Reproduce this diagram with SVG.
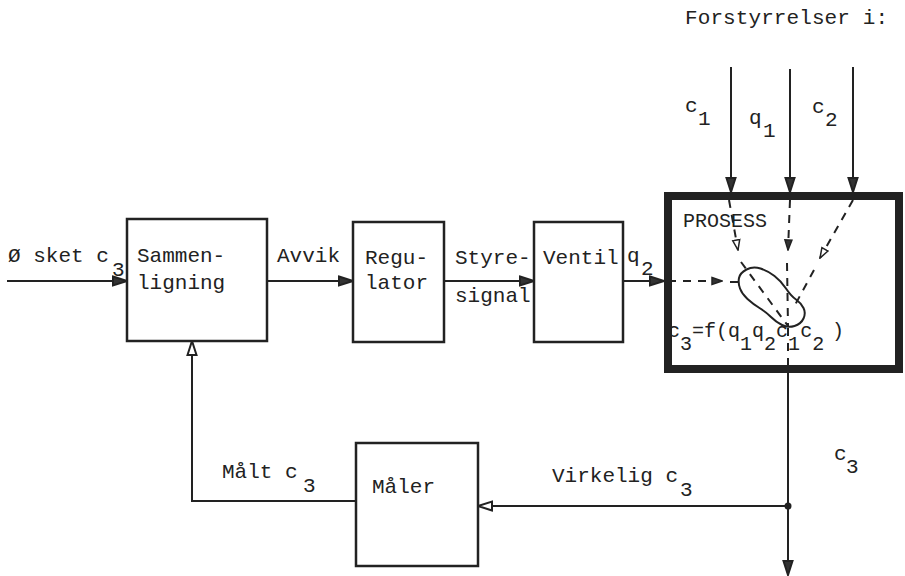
<svg xmlns="http://www.w3.org/2000/svg" width="905" height="576" viewBox="0 0 905 576">
<style>
text{font-family:"Liberation Mono","DejaVu Sans Mono",monospace;font-size:21px;fill:#222}
.box{fill:none;stroke:#222;stroke-width:2.5}
.ln{fill:none;stroke:#222;stroke-width:2}
.dash{fill:none;stroke:#222;stroke-width:2;stroke-dasharray:8 7}
.thick{fill:none;stroke:#222;stroke-width:8}
</style>
<defs>
<marker id="solid" viewBox="0 0 16 12" refX="15" refY="6" markerWidth="16" markerHeight="12" markerUnits="userSpaceOnUse" orient="auto">
<path d="M1,1.5 L15,6 L1,10.5 Z" fill="#333" stroke="#222" stroke-width="2"/>
</marker>
<marker id="hollow" viewBox="0 0 16 12" refX="15" refY="6" markerWidth="16" markerHeight="12" markerUnits="userSpaceOnUse" orient="auto">
<path d="M1,1.5 L15,6 L1,10.5 Z" fill="#fff" stroke="#222" stroke-width="2"/>
</marker>
<marker id="solidS" viewBox="0 0 12 10" refX="11" refY="5" markerWidth="12" markerHeight="10" markerUnits="userSpaceOnUse" orient="auto">
<path d="M1,1.5 L11,5 L1,8.5 Z" fill="#333" stroke="#222" stroke-width="1.5"/>
</marker>
<marker id="hollowS" viewBox="0 0 12 10" refX="11" refY="5" markerWidth="12" markerHeight="10" markerUnits="userSpaceOnUse" orient="auto">
<path d="M1,1.5 L11,5 L1,8.5 Z" fill="#fff" stroke="#222" stroke-width="1.5"/>
</marker>
</defs>
<rect width="905" height="576" fill="#fff"/>

<g id="connectors">
<path class="ln" d="M7,281 H127" marker-end="url(#solid)"/>
<path class="ln" d="M267,281 H353" marker-end="url(#solid)"/>
<path class="ln" d="M444,281 H534" marker-end="url(#solid)"/>
<path class="ln" d="M623,281 H664" marker-end="url(#solid)"/>
<path class="ln" d="M731,67 V192" marker-end="url(#solid)"/>
<path class="ln" d="M790,69 V192" marker-end="url(#solid)"/>
<path class="ln" d="M853,67 V192" marker-end="url(#solid)"/>
<path class="ln" d="M788,373 V575" marker-end="url(#solid)"/>
<circle cx="788" cy="506" r="3.5" fill="#222"/>
<path class="ln" d="M788,506 H478" marker-end="url(#hollow)"/>
<path class="ln" d="M356,501 H192 V341" marker-end="url(#hollow)"/>
</g>

<g id="sammenligning">
<rect class="box" x="127" y="219" width="140" height="122"/>
<text x="137" y="262">Sammen-</text>
<text x="137" y="289">ligning</text>
</g>

<g id="regulator">
<rect class="box" x="353" y="222" width="91" height="120"/>
<text x="365" y="264">Regu-</text>
<text x="365" y="289">lator</text>
</g>

<g id="ventil">
<rect class="box" x="534" y="222" width="89" height="120"/>
<text x="543" y="264">Ventil</text>
</g>

<g id="maaler">
<rect class="box" x="356" y="443" width="122" height="123"/>
<text x="372" y="493">Måler</text>
</g>

<g id="prosess">
<rect class="thick" x="668" y="196" width="231" height="173"/>
<text x="683" y="227" style="font-size:20px">PROSESS</text>
<path class="dash" d="M729,200 L738,250" marker-end="url(#hollowS)"/>
<path class="dash" d="M741,262 L788,326"/>
<path class="dash" d="M790,200 L788,250" marker-end="url(#solidS)"/>
<path class="dash" d="M787,263 L788,326"/>
<path class="dash" d="M853,200 L820,258" marker-end="url(#hollowS)"/>
<path class="dash" d="M814,270 L795,305"/>
<path class="dash" d="M668,281 L722,281" marker-end="url(#solidS)"/>
<path class="dash" d="M730,282 L745,282"/>
<path class="dash" d="M788,328 V369"/>
<path class="ln" d="M746.5,269.5 Q753,266 760.5,268.5 Q768,271 774.5,276 Q781,281 786,288.5 Q791,296 796,299.5 Q801,303 803.5,308 Q806,313 803.5,318.5 Q801,324 794.5,326 Q788,328 782,325 Q776,322 771,317 Q766,312 759.5,308 Q753,304 747.5,299 Q742,294 740,288.5 Q738,283 739,278 Q740,273 746.5,269.5 Z"/>
<text x="668" y="337" style="font-size:20px">c<tspan dy="13">3</tspan><tspan dy="-13">=f(q</tspan><tspan dy="13">1</tspan><tspan dy="-13">q</tspan><tspan dy="13">2</tspan><tspan dy="-13">c</tspan><tspan dy="13">1</tspan><tspan dy="-13">c</tspan><tspan dy="13">2</tspan><tspan dy="-13" x="832">)</tspan></text>
</g>

<g id="labels">
<text x="8" y="262">Ø sket c</text><text x="112" y="276">3</text>
<text x="277" y="262">Avvik</text>
<text x="455" y="264">Styre-</text>
<text x="455" y="302">signal</text>
<text x="627" y="262">q</text><text x="641" y="275">2</text>
<text x="685" y="24" textLength="203" lengthAdjust="spacing">Forstyrrelser i:</text>
<text x="685" y="112">c</text><text x="698" y="125">1</text>
<text x="749" y="124">q</text><text x="763" y="137">1</text>
<text x="812" y="113">c</text><text x="825" y="126">2</text>
<text x="222" y="478">Målt c</text><text x="303" y="492">3</text>
<text x="552" y="482">Virkelig c</text><text x="680" y="496">3</text>
<text x="834" y="460">c</text><text x="846" y="473">3</text>
</g>
</svg>
